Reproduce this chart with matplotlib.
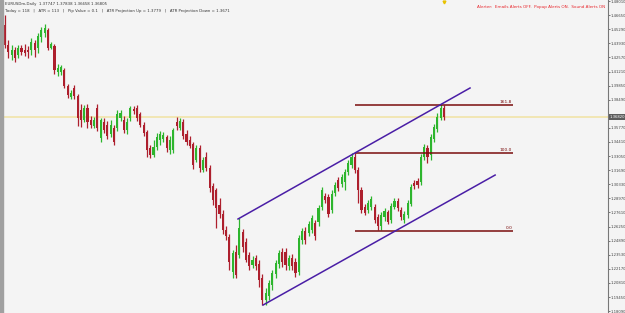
import matplotlib.pyplot as plt
from matplotlib import font_manager
from matplotlib.patches import Rectangle

# EURUSDm daily candles (oldest first)
opens = [1.4570, 1.4377, 1.4280, 1.4328, 1.4280, 1.4348, 1.4328, 1.4328, 1.4328, 1.4396,
         1.4348, 1.4454, 1.4493, 1.4522, 1.4348, 1.4367, 1.4116, 1.4116, 1.4136, 1.3981,
         1.3875, 1.3962, 1.3885, 1.3750, 1.3653, 1.3769, 1.3653, 1.3595, 1.3769, 1.3479,
         1.3634, 1.3605, 1.3518, 1.3576, 1.3576, 1.3672, 1.3653, 1.3556, 1.3672, 1.3759,
         1.3769, 1.3711, 1.3605, 1.3537, 1.3383, 1.3315, 1.3392, 1.3460, 1.3470, 1.3489,
         1.3364, 1.3364, 1.3634, 1.3576, 1.3634, 1.3518, 1.3460, 1.3421, 1.3267, 1.3383,
         1.3171, 1.3296, 1.3190, 1.3016, 1.2978, 1.2833, 1.2746, 1.2592, 1.2524, 1.2186,
         1.2379, 1.2350, 1.2572, 1.2476, 1.2350, 1.2254, 1.2321, 1.2263, 1.2128, 1.1916,
         1.1955, 1.2061, 1.2167, 1.2263, 1.2379, 1.2379, 1.2244, 1.2321, 1.2283, 1.2186,
         1.2495, 1.2582, 1.2563, 1.2592, 1.2659, 1.2669, 1.2813, 1.2920, 1.2910, 1.2785,
         1.2949, 1.3074, 1.3035, 1.3055, 1.3151, 1.3219, 1.3296, 1.3171, 1.2978, 1.2813,
         1.2785, 1.2813, 1.2813, 1.2717, 1.2630, 1.2717, 1.2765, 1.2688, 1.2813, 1.2871,
         1.2785, 1.2688, 1.2736, 1.2842, 1.3045, 1.3064, 1.3055, 1.3296, 1.3383, 1.3315,
         1.3470, 1.3566, 1.3672, 1.3769]
highs = [1.4666, 1.4425, 1.4377, 1.4357, 1.4377, 1.4377, 1.4386, 1.4367, 1.4444, 1.4425,
         1.4493, 1.4550, 1.4579, 1.4541, 1.4406, 1.4386, 1.4193, 1.4184, 1.4155, 1.4000,
         1.3943, 1.3991, 1.3904, 1.3807, 1.3798, 1.3807, 1.3692, 1.3682, 1.3807, 1.3672,
         1.3672, 1.3643, 1.3653, 1.3605, 1.3750, 1.3750, 1.3692, 1.3672, 1.3788, 1.3788,
         1.3798, 1.3730, 1.3634, 1.3556, 1.3412, 1.3460, 1.3528, 1.3547, 1.3537, 1.3508,
         1.3499, 1.3576, 1.3682, 1.3672, 1.3663, 1.3556, 1.3499, 1.3441, 1.3412, 1.3412,
         1.3296, 1.3344, 1.3219, 1.3045, 1.2997, 1.2900, 1.2785, 1.2630, 1.2553, 1.2399,
         1.2447, 1.2707, 1.2601, 1.2514, 1.2379, 1.2341, 1.2350, 1.2302, 1.2167, 1.2032,
         1.2109, 1.2206, 1.2302, 1.2399, 1.2418, 1.2418, 1.2350, 1.2360, 1.2321, 1.2543,
         1.2611, 1.2620, 1.2678, 1.2736, 1.2688, 1.2833, 1.3006, 1.2949, 1.2939, 1.2978,
         1.3055, 1.3103, 1.3132, 1.3180, 1.3267, 1.3335, 1.3335, 1.3199, 1.3006, 1.2842,
         1.2881, 1.2920, 1.2842, 1.2746, 1.2765, 1.2804, 1.2785, 1.2852, 1.2900, 1.2900,
         1.2813, 1.2775, 1.2881, 1.3035, 1.3074, 1.3093, 1.3325, 1.3421, 1.3412, 1.3518,
         1.3614, 1.3721, 1.3807, 1.3798]
lows = [1.4348, 1.4251, 1.4232, 1.4213, 1.4251, 1.4280, 1.4271, 1.4251, 1.4280, 1.4261,
        1.4300, 1.4406, 1.4454, 1.4328, 1.4338, 1.4097, 1.4078, 1.4087, 1.3962, 1.3865,
        1.3856, 1.3856, 1.3595, 1.3585, 1.3634, 1.3576, 1.3576, 1.3576, 1.3547, 1.3441,
        1.3528, 1.3470, 1.3489, 1.3412, 1.3547, 1.3643, 1.3528, 1.3518, 1.3643, 1.3711,
        1.3643, 1.3585, 1.3499, 1.3296, 1.3286, 1.3296, 1.3364, 1.3412, 1.3441, 1.3344,
        1.3325, 1.3335, 1.3556, 1.3556, 1.3470, 1.3412, 1.3383, 1.3180, 1.3248, 1.3151,
        1.3151, 1.3161, 1.2958, 1.2833, 1.2611, 1.2707, 1.2553, 1.2495, 1.2206, 1.2128,
        1.2128, 1.2321, 1.2379, 1.2283, 1.2206, 1.2225, 1.2206, 1.2041, 1.1868, 1.1868,
        1.1916, 1.2013, 1.2128, 1.2225, 1.2234, 1.2206, 1.2206, 1.2206, 1.2138, 1.2157,
        1.2456, 1.2456, 1.2534, 1.2563, 1.2495, 1.2630, 1.2785, 1.2852, 1.2717, 1.2756,
        1.2920, 1.2968, 1.3006, 1.2978, 1.3122, 1.3190, 1.3142, 1.2852, 1.2756, 1.2736,
        1.2756, 1.2785, 1.2659, 1.2592, 1.2592, 1.2678, 1.2649, 1.2659, 1.2794, 1.2775,
        1.2688, 1.2659, 1.2707, 1.2823, 1.2987, 1.2997, 1.3026, 1.3267, 1.3238, 1.3267,
        1.3441, 1.3537, 1.3653, 1.3653]
closes = [1.4377, 1.4309, 1.4328, 1.4251, 1.4348, 1.4309, 1.4300, 1.4309, 1.4406, 1.4328,
          1.4464, 1.4522, 1.4541, 1.4348, 1.4386, 1.4136, 1.4155, 1.4164, 1.3981, 1.3894,
          1.3914, 1.3885, 1.3672, 1.3653, 1.3769, 1.3634, 1.3605, 1.3653, 1.3576, 1.3653,
          1.3556, 1.3499, 1.3605, 1.3441, 1.3711, 1.3721, 1.3556, 1.3634, 1.3769, 1.3740,
          1.3672, 1.3605, 1.3528, 1.3364, 1.3315, 1.3392, 1.3489, 1.3518, 1.3508, 1.3383,
          1.3460, 1.3556, 1.3595, 1.3643, 1.3499, 1.3441, 1.3402, 1.3219, 1.3383, 1.3190,
          1.3267, 1.3190, 1.2997, 1.2881, 1.2804, 1.2746, 1.2592, 1.2534, 1.2283, 1.2370,
          1.2157, 1.2611, 1.2427, 1.2302, 1.2244, 1.2302, 1.2244, 1.2109, 1.1916, 1.1984,
          1.2080, 1.2177, 1.2273, 1.2370, 1.2283, 1.2254, 1.2321, 1.2244, 1.2177, 1.2514,
          1.2582, 1.2495, 1.2649, 1.2707, 1.2534, 1.2804, 1.2978, 1.2881, 1.2746, 1.2939,
          1.3026, 1.2997, 1.3103, 1.3151, 1.3238, 1.3296, 1.3171, 1.2978, 1.2785, 1.2756,
          1.2852, 1.2891, 1.2688, 1.2630, 1.2736, 1.2775, 1.2669, 1.2823, 1.2871, 1.2804,
          1.2717, 1.2746, 1.2852, 1.3006, 1.3016, 1.3026, 1.3296, 1.3392, 1.3296, 1.3489,
          1.3585, 1.3682, 1.3769, 1.3682]

price_labels = ["1.18090", "1.19450", "1.20810", "1.22170", "1.23530", "1.24890",
                "1.26250", "1.27610", "1.28970", "1.30330", "1.31690", "1.33050",
                "1.34410", "1.35770", "1.38490", "1.39850", "1.41210", "1.42570",
                "1.43930", "1.45290", "1.46650", "1.48010"]
current_label = "1.36820"

fib_names = ["161.8", "100.0", "0.0"]
fib_prices = [1.3800, 1.3335, 1.2582]
fib_span = [106, 154]

upper_x = [70.6, 140.9]
upper_y = [1.2698, 1.3962]
lower_x = [78.2, 148.5]
lower_y = [1.1868, 1.3122]

header1 = "EURUSDm,Daily  1.37747 1.37838 1.36658 1.36805"
header2 = "Today = 118   |   ATR = 113   |   Pip Value = 0.1   |   ATR Projection Up = 1.3779   |   ATR Projection Down = 1.3671"
alerter = "Alerter:  Emails Alerts OFF.  Popup Alerts ON.  Sound Alerts ON"

bg = "#f4f4f4"
up_col = "#2db52d"
down_col = "#ad1f2d"

# a narrow face for the price scale if one is around
names = {f.name for f in font_manager.fontManager.ttflist}
scale_font = "DejaVu Sans"
for cand in ["Liberation Sans Narrow", "DejaVu Sans Condensed"]:
    if cand in names:
        scale_font = cand
        break

fig = plt.figure(figsize=(6.25, 3.13), dpi=100, facecolor=bg)
ax = fig.add_axes([3 / 625, 0, 605 / 625, 1])
ax.set_facecolor(bg)

idx = list(range(len(opens)))
colors = [up_col if c >= o else down_col for o, c in zip(opens, closes)]
bodies = [max(abs(c - o), 0.0002) for o, c in zip(opens, closes)]
bottoms = [min(o, c) for o, c in zip(opens, closes)]

ax.axhline(closes[-1], color="#f1e2a2", lw=1.1, zorder=1)
ax.vlines(idx, lows, highs, colors=colors, lw=0.9, zorder=2)
ax.bar(idx, bodies, bottom=bottoms, width=0.65, color=colors, linewidth=0, zorder=3)

# fibo levels
for name, p in zip(fib_names, fib_prices):
    ax.hlines(p, fib_span[0], fib_span[1], colors="#7a0c0c", lw=1.1, zorder=4)
    ax.text(fib_span[1] - 0.3, p + 0.0006, name, ha="right", va="bottom",
            fontsize=3.2, color="#7a0c0c")

# channel
ax.plot(upper_x, upper_y, color="#4a1ea6", lw=1.1, zorder=4)
ax.plot(lower_x, lower_y, color="#4a1ea6", lw=1.1, zorder=4)

ax.set_xlim(-0.6, 182.7)
ax.set_ylim(1.1791, 1.4811)
ax.set_xticks([])
ax.yaxis.tick_right()
ax.set_yticks([float(t) for t in price_labels])
ax.set_yticklabels(price_labels, fontsize=2.7, color="#444444", family=scale_font)
ax.tick_params(axis="y", length=1.2, width=0.5, pad=0.6, colors="#444444")
for s in ["top", "left", "bottom"]:
    ax.spines[s].set_visible(False)
ax.spines["right"].set_color("#777777")
ax.spines["right"].set_linewidth(0.8)

ax.text(1.003, closes[-1], current_label, transform=ax.get_yaxis_transform(),
        fontsize=2.7, family=scale_font, color="white", va="center", ha="left",
        zorder=10, clip_on=False,
        bbox=dict(boxstyle="square,pad=0.3", fc="#5c5c5c", ec="none"))

ax.plot([133], [1.4790], marker="v", ms=2, color="#e8c200", clip_on=False)

fig.text(5 / 625, 1 - 4 / 313, header1, fontsize=2.8, color="#333333", va="center")
fig.text(5 / 625, 1 - 11 / 313, header2, fontsize=2.8, color="#333333", va="center")
fig.text(605 / 625, 1 - 7 / 313, alerter, fontsize=3.0, color="#e8262c", va="center", ha="right")

fig.patches.append(Rectangle((0, 0), 3 / 625, 1, transform=fig.transFigure,
                             color="#a0a0a0", zorder=0))

fig.savefig("out.png", dpi=100, facecolor=bg)
